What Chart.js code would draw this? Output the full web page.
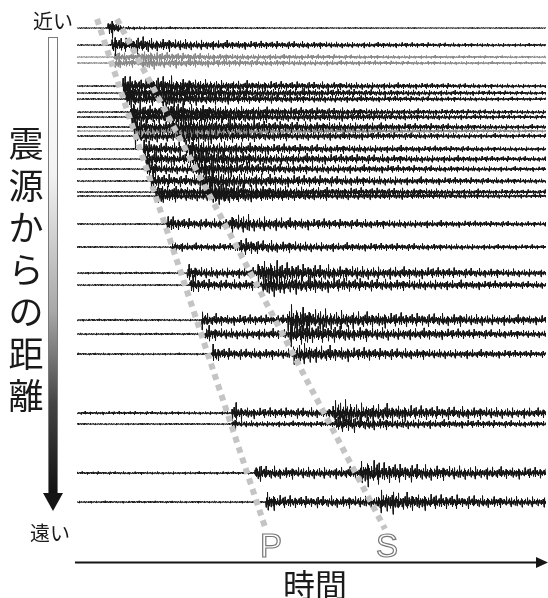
<!DOCTYPE html>
<html lang="ja">
<head>
  <meta charset="UTF-8">
  <title>震源からの距離と地震波の到着</title>
  <script src="https://cdn.jsdelivr.net/npm/chart.js"></script>
  <style>
    body { margin: 0; background: #fff; }
    #wrap { position: relative; width: 548px; height: 598px; }
    #wrap canvas { position: absolute; left: 0; top: 0; }
    .lbl {
      position: absolute;
      font-family: "Noto Sans CJK JP", "Noto Sans", sans-serif;
      color: #1a1a1a;
      white-space: nowrap;
    }
    .near, .far { font-size: 20px; line-height: 20px; }
    .near { left: 33px; top: 11px; }
    .far { left: 30px; top: 523px; }
    .dist { left: 8px; top: 121px; font-size: 35px; line-height: 42px; width: 36px; text-align: center; }
    .time { left: 283px; top: 567px; font-size: 32px; line-height: 32px; }
    .wave {
      font-family: "Liberation Sans", Arial, sans-serif;
      font-size: 33px; line-height: 33px;
      color: #fff;
      -webkit-text-stroke: 1.2px #777;
      top: 529px;
    }
    .wp { left: 260px; }
    .ws { left: 376px; }
  </style>
</head>
<body>
  <div id="wrap">
    <canvas id="quake" width="548" height="598"></canvas>
    <div class="lbl near">近い</div>
    <div class="lbl far">遠い</div>
    <div class="lbl dist">震<br>源<br>か<br>ら<br>の<br>距<br>離</div>
    <div class="lbl wave wp">P</div>
    <div class="lbl wave ws">S</div>
    <div class="lbl time">時間</div>
  </div>

  <script>
    // distance of each station (top = near), arrival times in s
    const distances = [10, 27, 39, 45, 68, 75, 81, 94, 99, 109, 113, 118, 131, 141, 151, 163, 174, 178,
                       206, 229, 255, 267, 302, 316, 336, 395, 406, 455, 484];
    const pArrivals = [3.1, 3.5, 3.7, 3.8, 4.6, 4.8, 5.0, 5.3, 5.5, 5.6, 5.7, 5.8, 6.6, 6.8, 7.0, 7.3, 7.8, 8.1,
                       9.0, 9.5, 11.0, 11.3, 12.5, 12.8, 13.5, 15.5, 15.5, 17.8, 18.9];
    const sArrivals = [4.4, 5.3, 5.9, 6.3, 7.5, 7.8, 8.2, 8.8, 9.1, 9.6, 9.8, 10.1, 10.8, 11.3, 11.8, 12.5, 13.0, 13.3,
                       15.3, 16.0, 18.1, 18.6, 21.0, 21.3, 21.6, 25.5, 25.8, 28.3, 30.1];
    // peak amplitudes: background noise, P wave, S wave
    const preAmps = [0.6, 0.8, 0.8, 0.8, 0.9, 0.8, 0.9, 0.9, 0.8, 0.9, 0.8, 0.9, 0.9, 0.8, 0.9, 0.9, 0.9, 0.8,
                     1.0, 1.0, 1.2, 1.0, 1.2, 1.2, 1.2, 1.8, 1.0, 1.5, 1.2];
    const pAmps = [7, 8, 5, 5, 9, 8, 8, 8, 8, 8, 6, 8, 8, 8, 7, 8, 7, 7,
                   7, 5, 7, 7, 7, 7, 7, 7, 4, 8, 8];
    const sAmps = [1.5, 7, 5, 5.5, 8, 8, 7, 8, 8, 9, 6, 8, 8, 9, 8, 9, 8, 7,
                   8, 7, 11, 10, 12, 10, 9, 11, 7, 11, 10];
    const grayTraces = [2, 3, 10];

    // envelope after the P onset (0.5 s bins) and after the S onset (2 s bins)
    const pDecay = [1.5, 1.1, 0.95, 0.9, 0.85, 0.82, 0.8];
    const sDecay = [1.3, 1.0, 0.88, 0.78, 0.7, 0.65, 0.61, 0.58, 0.55, 0.52, 0.48, 0.45, 0.42, 0.4, 0.37, 0.34,
                    0.32, 0.3, 0.28, 0.26, 0.25];

    // wiggle shape used for the record
    const wiggle = [
      0.21, -0.35, 0.48, -0.12, 0.30, -0.52, 0.08, 0.95, -0.78, 0.26, -0.18, 0.41, -0.33, 0.05, -0.46, 0.37, -0.22, 0.58, -0.91, 0.44,
      -0.09, 0.27, -0.40, 0.16, -0.28, 0.50, -0.06, -0.38, 0.73, -0.24, 0.11, -0.55, 0.32, -0.15, 0.43, -1.0, 0.62, -0.20, 0.35, -0.44,
      0.19, -0.07, 0.52, -0.31, 0.24, -0.60, 0.86, -0.47, 0.14, -0.26, 0.39, -0.10, 0.28, -0.49, 0.03, 0.45, -0.36, 0.22, -0.83, 0.68,
      -0.17, 0.33, -0.42, 0.09, -0.25, 0.57, -0.39, 0.12, -0.29, 0.47, -0.66, 0.98, -0.54, 0.18, -0.34, 0.40, -0.13, 0.26, -0.48, 0.07,
      0.36, -0.21, 0.51, -0.88, 0.31, -0.04, 0.23, -0.37, 0.15, -0.58, 0.44, -0.19, 0.79, -0.71, 0.29, -0.11, 0.38, -0.27, 0.06, -0.43,
      0.55, -0.16, 0.20, -0.95, 0.64, -0.30, 0.13, -0.45, 0.34, -0.08, 0.49, -0.23, 0.17, -0.62, 0.90, -0.41, 0.25, -0.14, 0.42, -0.32,
      0.10, -0.53, 0.37, -0.05, 0.28, -0.76, 0.59, -0.20, 0.32, -0.39, 0.14, -0.27, 0.46, -0.10, 0.84, -0.93, 0.35, -0.18, 0.27, -0.50,
      0.22, -0.12, 0.40, -0.34, 0.09, -0.57, 0.71, -0.26, 0.19, -0.44, 0.30];

    // travel-time guide lines (time s, distance)
    const pLine = [{x: 2.0, y: 1}, {x: 18.9, y: 512}];
    const sLine = [{x: 4.0, y: 1}, {x: 30.8, y: 511}];

    const tMax = 46.9;
    const step = 0.05;

    function envelope(k, t) {
      if (t < pArrivals[k]) return preAmps[k];
      if (t < sArrivals[k]) {
        const b = Math.min(Math.floor((t - pArrivals[k]) * 2), pDecay.length - 1);
        return pAmps[k] * pDecay[b];
      }
      const b = Math.min(Math.floor((t - sArrivals[k]) / 2), sDecay.length - 1);
      return Math.max(sAmps[k] * sDecay[b], preAmps[k]);
    }

    const traces = distances.map((d, k) => {
      const pts = [];
      for (let i = 0; i * step <= tMax + 1e-9; i++) {
        const t = i * step;
        const w = wiggle[(i + k * 37) % wiggle.length];
        pts.push({x: t, y: d + envelope(k, t) * w});
      }
      return {
        data: pts,
        borderColor: grayTraces.includes(k) ? '#8a8a8a' : '#161616',
        borderWidth: 1,
        borderJoinStyle: 'bevel',
        pointRadius: 0,
        order: 1
      };
    });

    const guide = (pts) => ({
      data: pts,
      borderColor: '#c4c4c4',
      borderWidth: 6,
      borderDash: [6, 5],
      borderCapStyle: 'butt',
      pointRadius: 0,
      order: -1
    });

    // arrows for distance and time
    const arrows = {
      id: 'arrows',
      afterDraw(chart) {
        const ctx = chart.ctx;
        ctx.save();
        const g = ctx.createLinearGradient(0, 37, 0, 494);
        g.addColorStop(0, '#ffffff');
        g.addColorStop(0.3, '#f2f2f2');
        g.addColorStop(0.6, '#a8a8a8');
        g.addColorStop(0.8, '#454545');
        g.addColorStop(1, '#111111');
        ctx.fillStyle = g;
        ctx.fillRect(48.5, 37.5, 9, 456);
        ctx.strokeStyle = '#7a7a7a';
        ctx.lineWidth = 1;
        ctx.strokeRect(48.5, 37.5, 9, 456);
        ctx.fillStyle = '#151515';
        ctx.beginPath();
        ctx.moveTo(43, 493);
        ctx.lineTo(63, 493);
        ctx.lineTo(53, 511);
        ctx.closePath();
        ctx.fill();

        ctx.strokeStyle = '#151515';
        ctx.lineWidth = 2;
        ctx.beginPath();
        ctx.moveTo(75, 562.5);
        ctx.lineTo(540, 562.5);
        ctx.stroke();
        ctx.beginPath();
        ctx.moveTo(536, 557);
        ctx.lineTo(548, 562.5);
        ctx.lineTo(536, 568);
        ctx.closePath();
        ctx.fill();
        ctx.restore();
      }
    };

    new Chart(document.getElementById('quake'), {
      type: 'line',
      data: { datasets: [guide(pLine), guide(sLine), ...traces] },
      options: {
        responsive: false,
        animation: false,
        parsing: false,
        normalized: true,
        layout: { padding: { left: 77, right: 2, top: 18, bottom: 60 } },
        plugins: { legend: { display: false }, tooltip: { enabled: false } },
        elements: { line: { tension: 0 } },
        scales: {
          x: { type: 'linear', min: 0, max: tMax, display: false },
          y: { type: 'linear', min: 0, max: 520, reverse: true, display: false }
        }
      },
      plugins: [arrows]
    });
  </script>
</body>
</html>
